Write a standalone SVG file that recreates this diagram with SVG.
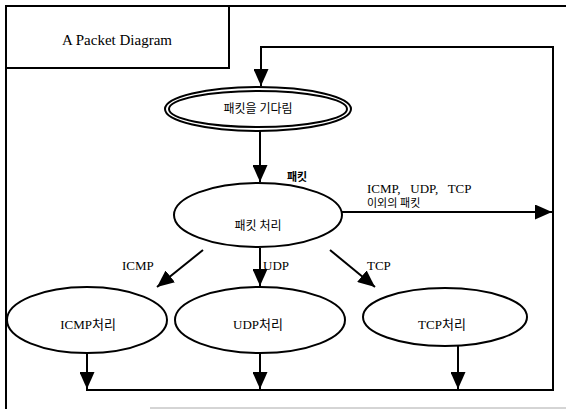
<svg xmlns="http://www.w3.org/2000/svg" width="569" height="409" viewBox="0 0 569 409">
<style>
.ln{fill:none;stroke:#000;stroke-width:2}
.el{fill:#fff;stroke:#000;stroke-width:2}
.t{font-family:"Liberation Serif","Noto Sans CJK KR",serif;font-size:13px;fill:#000}
.k{font-family:"Liberation Serif","Noto Sans CJK KR",serif;font-size:11px;fill:#000}
</style>
<defs>
<marker id="ah2" viewBox="0 0 10 10" refX="10" refY="5" markerWidth="17" markerHeight="15" markerUnits="userSpaceOnUse" orient="auto" preserveAspectRatio="none">
<path d="M0,0 L10,5 L0,10 z" fill="#000"/>
</marker>
</defs>
<rect width="569" height="409" fill="#fff"/>
<g id="frame">
<line x1="6" y1="6" x2="566" y2="6" class="ln"/>
<line x1="6" y1="6" x2="6" y2="409" class="ln"/>
<line x1="150" y1="408" x2="566" y2="408" stroke="#aaa" stroke-width="1"/>
</g>
<g id="title">
<rect x="6" y="6" width="223" height="62" class="ln"/>
<text x="117" y="45" text-anchor="middle" class="t" style="font-size:15px">A Packet Diagram</text>
</g>
<g id="connectors">
<polyline points="553,212 553,390 86,390" class="ln"/>
<polyline points="553,212 553,47 261,47 261,86" class="ln" marker-end="url(#ah2)"/>
<line x1="260" y1="130" x2="260" y2="182" class="ln" marker-end="url(#ah2)"/>
<line x1="342" y1="212" x2="552" y2="212" class="ln" stroke-width="1.5" marker-end="url(#ah2)"/>
<line x1="203" y1="250" x2="157" y2="287" class="ln" stroke-width="1.5" marker-end="url(#ah2)"/>
<line x1="260" y1="248" x2="260" y2="286" class="ln" stroke-width="1.5" marker-end="url(#ah2)"/>
<line x1="330" y1="250" x2="375" y2="287" class="ln" stroke-width="1.5" marker-end="url(#ah2)"/>
<line x1="87" y1="353" x2="87" y2="389" class="ln" stroke-width="1.5" marker-end="url(#ah2)"/>
<line x1="260" y1="353" x2="260" y2="389" class="ln" stroke-width="1.5" marker-end="url(#ah2)"/>
<line x1="458" y1="346" x2="458" y2="389" class="ln" stroke-width="1.5" marker-end="url(#ah2)"/>
<text x="287" y="181" class="k" font-weight="bold">패킷</text>
<text x="367" y="193" class="t" style="white-space:pre" xml:space="preserve">ICMP,   UDP,   TCP</text>
<text x="367" y="207" class="k">이외의 패킷</text>
<text x="122" y="270" class="t">ICMP</text>
<text x="263" y="270" class="t">UDP</text>
<text x="367" y="270" class="t">TCP</text>
</g>
<g id="wait">
<ellipse cx="258" cy="109" rx="93" ry="22" class="el"/>
<ellipse cx="258" cy="109" rx="89" ry="18" class="el" stroke-width="1.5"/>
<text x="258" y="113" text-anchor="middle" class="k" style="font-size:12px">패킷을 기다림</text>
</g>
<g id="process">
<ellipse cx="258" cy="215" rx="84" ry="32" class="el"/>
<text x="258" y="230" text-anchor="middle" class="k" style="font-size:12px">패킷 처리</text>
</g>
<g id="icmp">
<ellipse cx="87" cy="320" rx="80" ry="33" class="el"/>
<text x="88" y="329" text-anchor="middle" class="t">ICMP처리</text>
</g>
<g id="udp">
<ellipse cx="260" cy="320" rx="85" ry="33" class="el"/>
<text x="258" y="329" text-anchor="middle" class="t">UDP처리</text>
</g>
<g id="tcp">
<ellipse cx="445" cy="317" rx="82" ry="29" class="el"/>
<text x="442" y="329" text-anchor="middle" class="t">TCP처리</text>
</g>
</svg>
